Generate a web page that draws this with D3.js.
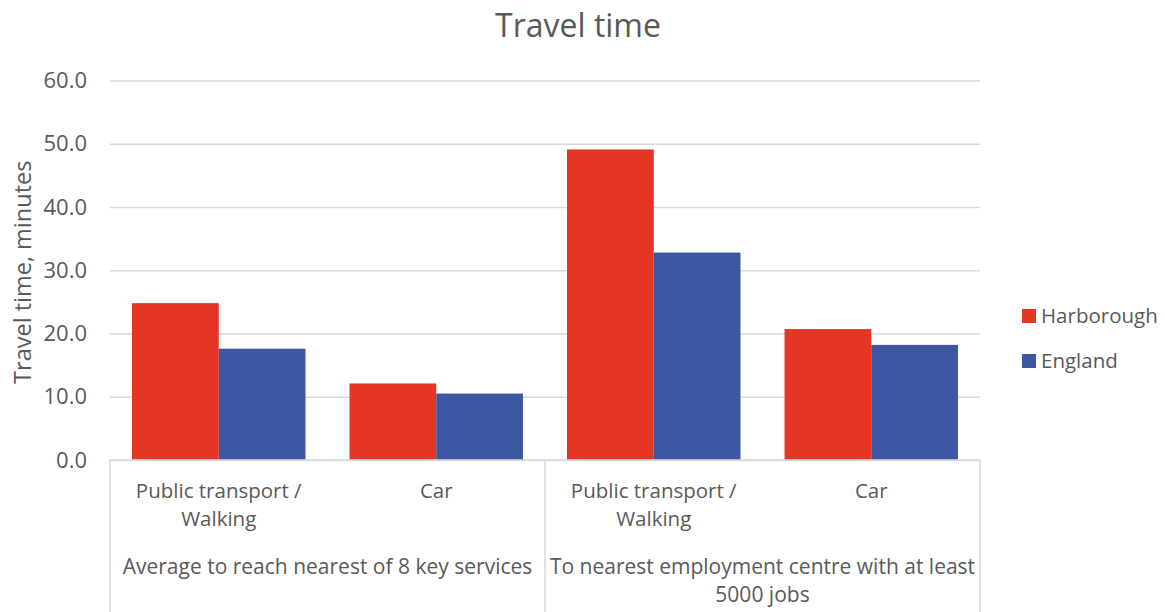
<!DOCTYPE html>
<html lang="en">
<head>
<meta charset="utf-8">
<title>Travel time</title>
<script src="https://cdn.jsdelivr.net/npm/d3@7"></script>
<style>
  body { margin: 0; background: #fff; }
  svg { display: block; font-family: "Open Sans", sans-serif; }
  .txt { fill: #595959; }
</style>
</head>
<body>
<svg id="chart"></svg>
<script>
// data
var groups = ["Average to reach nearest of 8 key services", "To nearest employment centre with at least 5000 jobs"];
var groupLines = [["Average to reach nearest of 8 key services"], ["To nearest employment centre with at least", "5000 jobs"]];
var modes = ["Public transport / Walking", "Car"];
var modeLines = [["Public transport /", "Walking"], ["Car"]];
var series = ["Harborough", "England"];
var harborough = [24.8, 12.1, 49.1, 20.7];
var england = [17.6, 10.5, 32.8, 18.2];
var yTicks = [0, 10, 20, 30, 40, 50, 60];
var colors = ["#E43525", "#3C57A2"];

var svgWidth = 1165, svgHeight = 612;
var margin = { top: 80.5, left: 110, right: 185, bottom: 152 };
var width = svgWidth - margin.left - margin.right;
var height = svgHeight - margin.top - margin.bottom;

var svg = d3.select("#chart").attr("width", svgWidth).attr("height", svgHeight);
var g = svg.append("g").attr("transform", "translate(" + margin.left + "," + margin.top + ")");

// one key per bar cluster
var keys = [];
groups.forEach(function(gr, gi) {
  modes.forEach(function(m, mi) { keys.push(gi + "-" + mi); });
});

var xScale = d3.scaleBand().domain(keys).range([0, width]);
var xSeries = d3.scaleBand().domain(series).range([0, xScale.bandwidth()]).paddingInner(0).paddingOuter(0.254);
var yScale = d3.scaleLinear().domain([0, 60]).range([height, 0]);

// gridlines
g.append("g")
  .call(d3.axisLeft(yScale).tickValues(yTicks).tickSize(-width).tickFormat(""))
  .call(function(a) { a.select(".domain").remove(); })
  .selectAll("line").attr("stroke", "#d9d9d9").attr("stroke-width", 1.3);

// y tick labels
g.append("g")
  .call(d3.axisLeft(yScale).tickValues(yTicks).tickSize(0).tickPadding(23).tickFormat(d3.format(".1f")))
  .call(function(a) { a.select(".domain").remove(); })
  .selectAll("text").attr("class", "txt").style("font-size", "22px").style("font-family", "Open Sans");

// bars
var rows = keys.map(function(k, i) { return { key: k, values: [harborough[i], england[i]] }; });
var cluster = g.selectAll(".cluster").data(rows).enter().append("g")
  .attr("transform", function(d) { return "translate(" + xScale(d.key) + ",0)"; });
cluster.selectAll("rect").data(function(d) { return d.values; }).enter().append("rect")
  .attr("x", function(d, i) { return xSeries(series[i]); })
  .attr("width", xSeries.bandwidth())
  .attr("y", function(d) { return yScale(d); })
  .attr("height", function(d) { return height - yScale(d); })
  .attr("fill", function(d, i) { return colors[i]; });

// category axis: baseline and separators
g.append("line").attr("x1", 0).attr("x2", width).attr("y1", height).attr("y2", height)
  .attr("stroke", "#d9d9d9").attr("stroke-width", 1.5);
var sepX = [0, xScale(keys[2]), width];
g.selectAll(".sep").data(sepX).enter().append("line")
  .attr("x1", function(d) { return d; }).attr("x2", function(d) { return d; })
  .attr("y1", height).attr("y2", svgHeight - margin.top)
  .attr("stroke", "#d9d9d9").attr("stroke-width", 1.5);

// mode labels
keys.forEach(function(k, i) {
  var lines = modeLines[i % 2];
  var t = g.append("text").attr("class", "txt").attr("text-anchor", "middle")
    .attr("x", xScale(k) + xScale.bandwidth() / 2).attr("y", height + 38)
    .style("font-size", "20.5px");
  lines.forEach(function(l, li) {
    t.append("tspan").attr("x", xScale(k) + xScale.bandwidth() / 2).attr("dy", li ? 28 : 0).text(l);
  });
});

// group labels
groupLines.forEach(function(lines, gi) {
  var cx = xScale(keys[gi * 2]) + xScale.bandwidth();
  var t = g.append("text").attr("class", "txt").attr("text-anchor", "middle")
    .attr("x", cx).attr("y", height + 114).style("font-size", "21px");
  lines.forEach(function(l, li) {
    t.append("tspan").attr("x", cx).attr("dy", li ? 28 : 0).text(l);
  });
});

// title
svg.append("text").attr("class", "txt").attr("text-anchor", "middle")
  .attr("x", 578).attr("y", 37).style("font-size", "32px").text("Travel time");

// y axis label
svg.append("text").attr("class", "txt").attr("text-anchor", "middle")
  .attr("transform", "translate(31," + (margin.top + height / 2 + 2) + ") rotate(-90)")
  .style("font-size", "23.5px").text("Travel time, minutes");

// legend
var legend = svg.selectAll(".legend").data(series).enter().append("g")
  .attr("transform", function(d, i) { return "translate(1022," + (316 + i * 45) + ")"; });
legend.append("rect").attr("x", 0).attr("y", -7).attr("width", 14).attr("height", 14)
  .attr("fill", function(d, i) { return colors[i]; });
legend.append("text").attr("class", "txt").attr("x", 19).attr("y", 7)
  .style("font-size", "20.5px").text(function(d) { return d; });
</script>
</body>
</html>
